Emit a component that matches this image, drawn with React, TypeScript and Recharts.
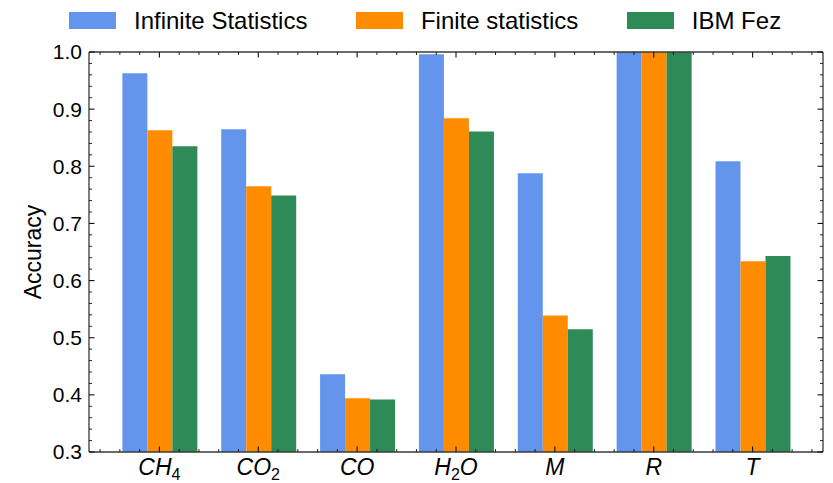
import React from "react";
import { BarChart, Bar, XAxis, YAxis, Legend } from "recharts";

// Accuracy per target variable for three evaluation settings
const categories = ["CH4", "CO2", "CO", "H2O", "M", "R", "T"];
const infiniteStatistics = [0.963, 0.865, 0.436, 0.996, 0.788, 1.0, 0.809];
const finiteStatistics = [0.863, 0.765, 0.394, 0.884, 0.539, 1.0, 0.634];
const ibmFez = [0.835, 0.749, 0.392, 0.861, 0.515, 1.0, 0.643];

const seriesKeys = ["infinite", "finite", "fez"];
const seriesNames = ["Infinite Statistics", "Finite statistics", "IBM Fez"];
const seriesColors = ["#6495ED", "#FF8C00", "#2E8B57"];

const yTicks = [0.3, 0.4, 0.5, 0.6, 0.7, 0.8, 0.9, 1.0];
const xMajorTicks = [0, 1, 2, 3, 4, 5, 6];

const data = categories.map((name, i) => ({
  name,
  infinite: infiniteStatistics[i],
  finite: finiteStatistics[i],
  fez: ibmFez[i],
}));

// minor tick positions (axis decoration only)
const yMinorTicks: number[] = [];
for (let i = 0; i <= 35; i++) if (i % 5) yMinorTicks.push(+(0.3 + i * 0.02).toFixed(2));
const xMinorTicks: number[] = [];
for (let i = -3; i <= 33; i++) if (i % 5) xMinorTicks.push(+(i * 0.2).toFixed(1));

// category index axis: first/last group centre sits 0.7125 units inside the frame
const X_DOMAIN: [number, number] = [0, 6];
const X_PAD = 70.4;
const CAT_PAD = 21;
const Y_DOMAIN: [number, number] = [0.3, 1.0];
const FONT = "Liberation Sans";
const FRAME = "#3a3a3a";
const TICK = "#111";
const THIN = 0.01; // tick-only axes take no room

const NoLabel = () => <g />;

const CategoryTick = (props: any) => {
  const { x, y, payload } = props;
  const label: string = String(payload.value);
  const parts: React.ReactNode[] = [];
  let shifted = false;
  let key = 0;
  for (const ch of label) {
    if (/[0-9]/.test(ch)) {
      parts.push(
        <tspan key={key++} fontStyle="normal" fontSize={16} dy={5}>
          {ch}
        </tspan>
      );
      shifted = true;
    } else {
      parts.push(
        <tspan key={key++} fontStyle="italic" dy={shifted ? -5 : 0}>
          {ch}
        </tspan>
      );
      shifted = false;
    }
  }
  return (
    <text x={x} y={y + 23} textAnchor="middle" fontFamily={FONT} fontSize={23} fill="#000">
      {parts}
    </text>
  );
};

const YLabel = (props: any) => {
  const vb = props.viewBox || {};
  const cx = 41;
  const cy = (vb.y ?? 52) + (vb.height ?? 400) / 2;
  return (
    <text
      x={cx}
      y={cy}
      transform={`rotate(-90, ${cx}, ${cy})`}
      textAnchor="middle"
      fontFamily={FONT}
      fontSize={23}
      fill="#000"
    >
      Accuracy
    </text>
  );
};

const LegendContent = () => (
  <div
    style={{
      display: "flex",
      alignItems: "center",
      paddingLeft: 69,
      paddingTop: 6,
      fontFamily: FONT,
      fontSize: 24,
      color: "#000",
      whiteSpace: "nowrap",
    }}
  >
    {seriesNames.map((name, i) => (
      <div key={seriesKeys[i]} style={{ display: "flex", alignItems: "center", marginRight: 48.5 }}>
        <span style={{ display: "inline-block", width: 47, height: 17, background: seriesColors[i] }} />
        <span style={{ marginLeft: 18, lineHeight: "normal", position: "relative", top: 1 }}>{name}</span>
      </div>
    ))}
  </div>
);

const minorTickLine = { stroke: TICK, strokeWidth: 0.9 };
const majorTickLine = { stroke: TICK, strokeWidth: 1.1 };

const tickAxisX = (id: string, orientation: "top" | "bottom", ticks: number[], size: number, frame: boolean) => (
  <XAxis
    key={id}
    xAxisId={id}
    type="number"
    domain={X_DOMAIN}
    allowDataOverflow
    padding={{ left: X_PAD, right: X_PAD }}
    ticks={ticks}
    interval={0}
    orientation={orientation}
    mirror
    height={THIN}
    tick={<NoLabel />}
    tickSize={size}
    tickLine={size > 4 ? majorTickLine : minorTickLine}
    axisLine={frame ? { stroke: FRAME, strokeWidth: 1.3 } : false}
  />
);

const tickAxisY = (id: string, orientation: "left" | "right", ticks: number[], size: number, frame: boolean) => (
  <YAxis
    key={id}
    yAxisId={id}
    type="number"
    orientation={orientation}
    domain={Y_DOMAIN}
    allowDataOverflow
    ticks={ticks}
    interval={0}
    mirror
    width={THIN}
    tick={<NoLabel />}
    tickSize={size}
    tickLine={size > 4 ? majorTickLine : minorTickLine}
    axisLine={frame ? { stroke: FRAME, strokeWidth: 1.3 } : false}
  />
);

export default function App() {
  return (
    <div style={{ position: "absolute", left: 0, top: 0, background: "#fff" }}>
      <BarChart
        width={833}
        height={483}
        data={data}
        margin={{ top: 52, right: 10, bottom: 0, left: 0 }}
        barGap={0}
        barCategoryGap="12.5%"
      >
        <Legend
          layout="horizontal"
          verticalAlign="middle"
          align="center"
          wrapperStyle={{ top: 0, left: 0, width: 833, height: 32 }}
          content={<LegendContent />}
        />
        {seriesKeys.map((k, i) => (
          <Bar
            key={k}
            xAxisId="cat"
            yAxisId="val"
            dataKey={k}
            name={seriesNames[i]}
            fill={seriesColors[i]}
            isAnimationActive={false}
          />
        ))}

        {/* category labels and bottom frame */}
        <XAxis
          xAxisId="cat"
          dataKey="name"
          type="category"
          orientation="bottom"
          height={31}
          padding={{ left: CAT_PAD, right: CAT_PAD }}
          interval={0}
          tickLine={false}
          tickSize={0}
          tickMargin={0}
          axisLine={{ stroke: FRAME, strokeWidth: 1.3 }}
          tick={<CategoryTick />}
        />
        {tickAxisX("majB", "bottom", xMajorTicks, 5.5, false)}
        {tickAxisX("minB", "bottom", xMinorTicks, 3, false)}
        {tickAxisX("majT", "top", xMajorTicks, 5.5, true)}
        {tickAxisX("minT", "top", xMinorTicks, 3, false)}

        {/* value axis labels and left frame */}
        <YAxis
          yAxisId="val"
          type="number"
          domain={Y_DOMAIN}
          allowDataOverflow
          ticks={yTicks}
          interval={0}
          width={89}
          tickLine={false}
          tickSize={0}
          tickMargin={7}
          tickFormatter={(v: number) => v.toFixed(1)}
          tick={{ fill: "#000", fontSize: 21, fontFamily: FONT }}
          axisLine={{ stroke: FRAME, strokeWidth: 1.3 }}
          label={<YLabel />}
        />
        {tickAxisY("majL", "left", yTicks, 5.5, false)}
        {tickAxisY("minL", "left", yMinorTicks, 3, false)}
        {tickAxisY("majR", "right", yTicks, 5.5, true)}
        {tickAxisY("minR", "right", yMinorTicks, 3, false)}
      </BarChart>
    </div>
  );
}
